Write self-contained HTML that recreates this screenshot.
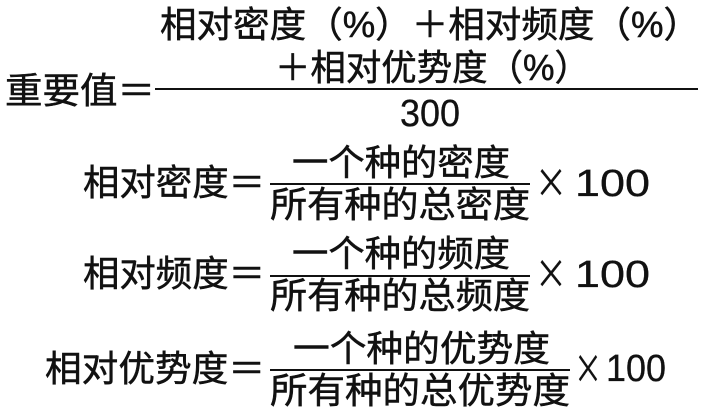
<!DOCTYPE html>
<html><head><meta charset="utf-8"><style>
html,body{margin:0;padding:0;background:#fff;width:707px;height:411px;overflow:hidden}
text{font-family:"Liberation Sans","Noto Sans CJK SC",sans-serif;font-size:36px;fill:#111;stroke:#111;stroke-width:0.5}
.x{font-family:"Noto Sans CJK SC",sans-serif;font-size:40px;stroke-width:0.3}
.n{font-family:"Liberation Sans",sans-serif;font-size:38px;stroke-width:0.3}
</style></head><body>
<svg width="707" height="411" viewBox="0 0 707 411" xmlns="http://www.w3.org/2000/svg">
<text x="160" y="37" textLength="540" lengthAdjust="spacingAndGlyphs">相对密度（%）＋相对频度（%）</text>
<text x="275" y="80" textLength="315" lengthAdjust="spacingAndGlyphs">＋相对优势度（%）</text>
<line x1="155" y1="89" x2="698" y2="89" stroke="#111" stroke-width="2"/>
<text x="5" y="103" textLength="150" lengthAdjust="spacingAndGlyphs">重要值＝</text>
<text class="n" x="400" y="126" textLength="60" lengthAdjust="spacingAndGlyphs">300</text>

<text x="83" y="195" textLength="182" lengthAdjust="spacingAndGlyphs">相对密度＝</text>
<text x="292" y="175" textLength="218" lengthAdjust="spacingAndGlyphs">一个种的密度</text>
<line x1="270" y1="184" x2="530" y2="184" stroke="#111" stroke-width="2"/>
<text x="270" y="217" textLength="260" lengthAdjust="spacingAndGlyphs">所有种的总密度</text>
<text class="x" x="535" y="197" textLength="32" lengthAdjust="spacingAndGlyphs">×</text>
<text class="n" x="575" y="196" textLength="75" lengthAdjust="spacingAndGlyphs">100</text>

<text x="83" y="286" textLength="182" lengthAdjust="spacingAndGlyphs">相对频度＝</text>
<text x="292" y="266" textLength="218" lengthAdjust="spacingAndGlyphs">一个种的频度</text>
<line x1="270" y1="276" x2="530" y2="276" stroke="#111" stroke-width="2"/>
<text x="270" y="308" textLength="260" lengthAdjust="spacingAndGlyphs">所有种的总频度</text>
<text class="x" x="535" y="288" textLength="32" lengthAdjust="spacingAndGlyphs">×</text>
<text class="n" x="575" y="287" textLength="75" lengthAdjust="spacingAndGlyphs">100</text>

<text x="45" y="381" textLength="220" lengthAdjust="spacingAndGlyphs">相对优势度＝</text>
<text x="293" y="361" textLength="257" lengthAdjust="spacingAndGlyphs">一个种的优势度</text>
<line x1="270" y1="370" x2="570" y2="370" stroke="#111" stroke-width="2"/>
<text x="270" y="403" textLength="300" lengthAdjust="spacingAndGlyphs">所有种的总优势度</text>
<text class="x" x="574" y="383" textLength="28" lengthAdjust="spacingAndGlyphs">×</text>
<text class="n" x="606" y="381" textLength="60" lengthAdjust="spacingAndGlyphs">100</text>
</svg>
</body></html>
